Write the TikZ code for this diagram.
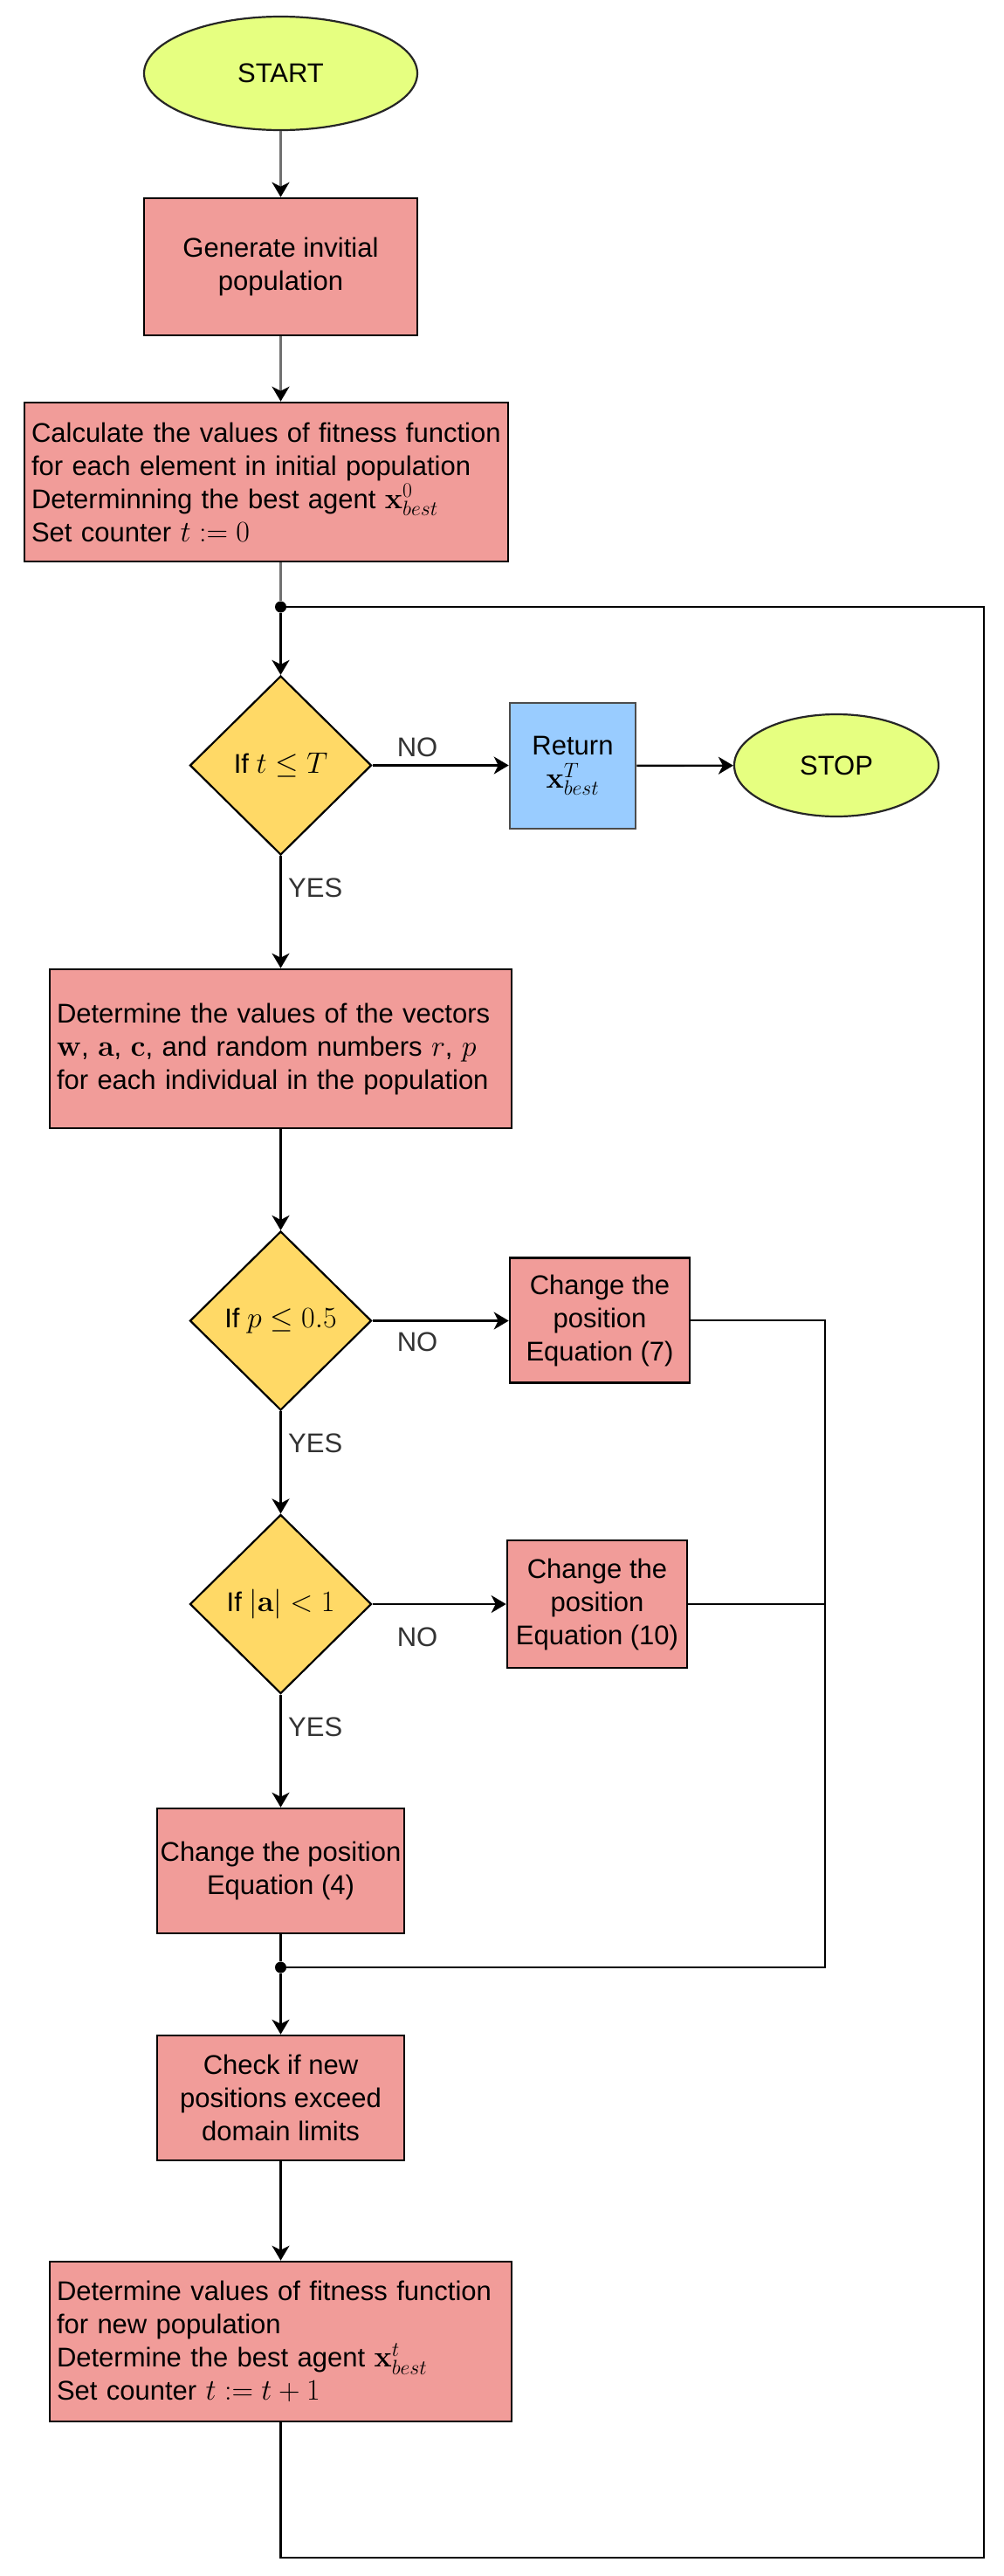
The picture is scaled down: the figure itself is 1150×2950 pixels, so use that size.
\RequirePackage{fix-cm}
\documentclass[tikz,border=0pt]{standalone}
\usepackage{amsmath}
\usepackage[no-math]{fontspec}
\setmainfont{Liberation Sans}
\usetikzlibrary{shapes.geometric,arrows.meta}
\definecolor{termfill}{HTML}{E6FF80}
\definecolor{procfill}{HTML}{F19C99}
\definecolor{decfill}{HTML}{FFD966}
\definecolor{retfill}{HTML}{99CCFF}
\definecolor{conngray}{HTML}{707070}
\definecolor{labgray}{HTML}{333333}
\newcommand{\mth}[1]{{\fontsize{34}{38}\selectfont$#1$}}
\begin{document}
\begin{tikzpicture}[x=1pt,y=-1pt,
  font=\fontsize{31}{38}\selectfont,
  tip/.tip={Stealth[length=17pt,width=20pt,inset=5pt,color=black]},
  term/.style={ellipse, draw=black!85, line width=2.2pt, fill=termfill, inner sep=0pt},
  proc/.style={rectangle, draw=black, line width=2.6pt, fill=procfill, inner sep=3pt, align=center},
  procl/.style={proc, align=left, inner xsep=8pt},
  dec/.style={diamond, draw=black, line width=2.2pt, fill=decfill, inner sep=0pt, minimum width=208pt, minimum height=205pt},
  ret/.style={rectangle, draw=black!70, line width=2.6pt, fill=retfill, inner sep=3pt, align=center},
  conn/.style={line width=2.4pt, draw=black},
  gconn/.style={line width=2.6pt, draw=conngray},
  lab/.style={text=labgray, inner sep=0pt},
  jdot/.style={circle, fill=black, inner sep=0pt, minimum size=13pt}]

\path[use as bounding box, fill=white] (0,0) rectangle (1150,2950);

% nodes
\node[term, minimum width=313pt, minimum height=130pt] (start) at (321.5,84) {START};
\node[proc, minimum width=313pt, minimum height=157pt] (gen) at (321.5,305.5) {Generate invitial\\population};
\node[procl, text width=538pt, minimum height=182pt] (calc) at (305,552) {Calculate the values of fitness function\\for each element in initial population\\Determinning the best agent \mth{\mathbf{x}^{0}_{best}}\\Set counter \mth{t:=0}};
\node[jdot] (j1) at (321.5,695) {};
\node[dec] (d1) at (321.5,876.5) {If \mth{t \leq T}};
\node[ret, minimum width=144pt, minimum height=144pt] (ret) at (656,877) {Return\\\mth{\mathbf{x}^{T}_{best}}};
\node[term, minimum width=234pt, minimum height=117pt] (stop) at (958,876.5) {STOP};
\node[procl, text width=513pt, minimum height=182pt] (det) at (321.5,1201) {Determine the values of the vectors\\\mth{\mathbf{w}}, \mth{\mathbf{a}}, \mth{\mathbf{c}}, and random numbers \mth{r}, \mth{p}\\for each individual in the population};
\node[dec] (d2) at (321.5,1512.5) {If \mth{p \leq 0.5}};
\node[proc, minimum width=206pt, minimum height=143pt] (c7) at (687,1512) {Change the\\position\\Equation (7)};
\node[dec] (d3) at (321.5,1837) {If \mth{|\mathbf{a}| < 1}};
\node[proc, minimum width=206pt, minimum height=146pt] (c10) at (684,1837) {Change the\\position\\Equation (10)};
\node[proc, minimum width=283pt, minimum height=143pt] (c4) at (321.5,2142.5) {Change the position\\Equation (4)};
\node[jdot] (j2) at (321.5,2253) {};
\node[proc, minimum width=283pt, minimum height=143pt] (chk) at (321.5,2402.5) {Check if new\\positions exceed\\domain limits};
\node[procl, text width=513pt, minimum height=183pt] (fin) at (321.5,2681.5) {Determine values of fitness function\\for new population\\Determine the best agent \mth{\mathbf{x}^{t}_{best}}\\Set counter \mth{t:=t+1}};

% helper coordinates
\coordinate (m7) at (945,1512);
\coordinate (m10) at (945,1837);
\coordinate (mb) at (945,2253);
\coordinate (bl) at (321.5,2929);
\coordinate (br) at (1127,2929);
\coordinate (tr) at (1127,695);

% connectors
\draw[gconn,-tip] (start) -- (gen);
\draw[gconn,-tip] (gen) -- (gen.south |- calc.north);
\draw[gconn] (calc.south -| j1) -- (j1);
\draw[conn,-tip] (j1) -- (d1);
\draw[conn,-tip] (d1.east) -- (d1.east -| ret.west);
\draw[conn,-tip] (ret) -- (stop);
\draw[conn,-tip] (d1) -- (det);
\draw[conn,-tip] (det) -- (d2);
\draw[conn,-tip] (d2.east) -- (d2.east -| c7.west);
\draw[conn,-tip] (d2) -- (d3);
\draw[conn,-tip] (d3.east) -- (d3.east -| c10.west);
\draw[conn,-tip] (d3) -- (c4);
\draw[conn] (c4) -- (j2);
\draw[conn,-tip] (j2) -- (chk);
\draw[conn] (c7.east) -- (m7) -- (mb) -- (j2);
\draw[conn] (c10.east) -- (m10);
\draw[conn,-tip] (chk) -- (fin);
\draw[conn] (fin) -- (bl) -- (br) -- (tr) -- (j1);

% labels
\node[lab] (no1) at (478,856) {NO};
\node[lab, anchor=west] (yes1) at (330,1017) {YES};
\node[lab] (no2) at (478,1537) {NO};
\node[lab, anchor=west] (yes2) at (330,1653) {YES};
\node[lab] (no3) at (478,1875) {NO};
\node[lab, anchor=west] (yes3) at (330,1978) {YES};
\end{tikzpicture}
\end{document}
